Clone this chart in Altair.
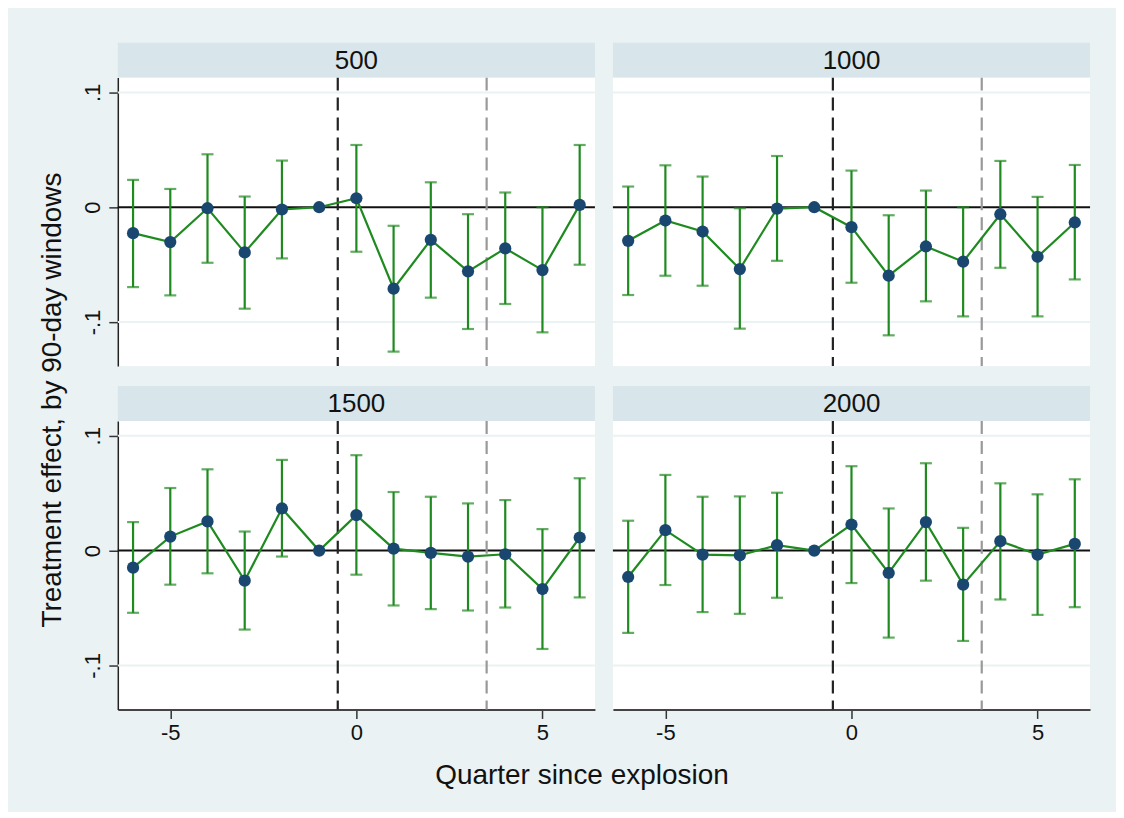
import altair as alt
import pandas as pd

# ---------------- data ----------------
quarters = [-6, -5, -4, -3, -2, -1, 0, 1, 2, 3, 4, 5, 6]
distances = ["500", "1000", "1500", "2000"]

est_500 = [-0.0226, -0.0304, -0.0009, -0.0394, -0.0020, 0.0, 0.0078, -0.0710, -0.0284, -0.0559, -0.0359, -0.0548, 0.0020]
lo_500 = [-0.0696, -0.0768, -0.0484, -0.0884, -0.0446, None, -0.0388, -0.1258, -0.0788, -0.1061, -0.0843, -0.1090, -0.0501]
hi_500 = [0.0238, 0.0159, 0.0461, 0.0093, 0.0406, None, 0.0542, -0.0162, 0.0217, -0.0061, 0.0128, 0.0000, 0.0542]

est_1000 = [-0.0293, -0.0116, -0.0212, -0.0539, -0.0012, 0.0, -0.0174, -0.0597, -0.0342, -0.0475, -0.0061, -0.0432, -0.0133]
lo_1000 = [-0.0765, -0.0597, -0.0684, -0.1058, -0.0467, None, -0.0658, -0.1116, -0.0820, -0.0951, -0.0528, -0.0951, -0.0629]
hi_1000 = [0.0180, 0.0365, 0.0267, -0.0009, 0.0446, None, 0.0319, -0.0070, 0.0145, 0.0000, 0.0403, 0.0090, 0.0368]

est_1500 = [-0.0149, 0.0122, 0.0254, -0.0262, 0.0367, 0.0, 0.0309, 0.0017, -0.0020, -0.0052, -0.0032, -0.0335, 0.0114]
lo_1500 = [-0.0542, -0.0297, -0.0198, -0.0688, -0.0052, None, -0.0210, -0.0478, -0.0510, -0.0522, -0.0496, -0.0857, -0.0408]
hi_1500 = [0.0248, 0.0545, 0.0708, 0.0166, 0.0790, None, 0.0831, 0.0510, 0.0469, 0.0411, 0.0440, 0.0187, 0.0630]

est_2000 = [-0.0230, 0.0178, -0.0035, -0.0041, 0.0047, 0.0, 0.0227, -0.0195, 0.0248, -0.0297, 0.0082, -0.0035, 0.0058]
lo_2000 = [-0.0717, -0.0300, -0.0536, -0.0551, -0.0411, None, -0.0283, -0.0758, -0.0262, -0.0787, -0.0426, -0.0560, -0.0493]
hi_2000 = [0.0260, 0.0659, 0.0469, 0.0472, 0.0504, None, 0.0735, 0.0367, 0.0761, 0.0198, 0.0586, 0.0490, 0.0621]

y_ticks = [-0.1, 0.0, 0.1]
x_ticks = [-5, 0, 5]
grid_vals = [-0.1, 0.1]
event_line = [-0.5]
later_line = [3.5]
x_title = "Quarter since explosion"
y_title = "Treatment effect, by 90-day windows"

series = {
    "500": (est_500, lo_500, hi_500),
    "1000": (est_1000, lo_1000, hi_1000),
    "1500": (est_1500, lo_1500, hi_1500),
    "2000": (est_2000, lo_2000, hi_2000),
}

# ---------------- styling ----------------
FONT = "Liberation Sans"
W, H = 478, 289
STRIP_H = 35
GREEN = "#1f8a1f"
NAVY = "#1a476f"
BG = "#eaf2f3"
STRIP = "#d8e5ea"

xs = alt.Scale(domain=[-6.41, 6.41], nice=False, zero=False)
ys = alt.Scale(domain=[-0.1384, 0.1129], nice=False, zero=False)


def x_axis(show):
    if not show:
        return None
    return alt.Axis(values=x_ticks, title=None, grid=False, labelFontSize=22, labelFont=FONT,
                    labelColor="#111", tickSize=9, tickColor="#333", tickWidth=1.5,
                    labelExpr="toString(datum.value)",
                    domainColor="#444", domainWidth=2, labelPadding=4, labelFlush=False)


def y_axis(show):
    if not show:
        return None
    return alt.Axis(values=y_ticks, title=None, grid=False, labelFontSize=22, labelFont=FONT,
                    labelColor="#111", labelAngle=270, labelAlign="center", labelBaseline="bottom",
                    labelExpr="datum.value > 0.05 ? '.1' : (datum.value < -0.05 ? '-.1' : '0')",
                    tickSize=9, tickColor="#333", tickWidth=1.5, domainColor="#222",
                    domainWidth=1.5, labelPadding=4, labelFlush=False)


def panel(d, show_x, show_y, extra=None):
    est, lo, hi = series[d]
    df = pd.DataFrame({"q": quarters, "est": est, "lo": lo, "hi": hi})
    ci = df.dropna()
    xa, ya = x_axis(show_x), y_axis(show_y)

    grid = alt.Chart(pd.DataFrame({"g": grid_vals})).mark_rule(color=BG, strokeWidth=2).encode(
        y=alt.Y("g:Q", scale=ys, axis=ya))
    zero = alt.Chart(pd.DataFrame({"z": [0.0]})).mark_rule(color="#111", strokeWidth=2).encode(
        y=alt.Y("z:Q", scale=ys, axis=ya))
    v1 = alt.Chart(pd.DataFrame({"v": event_line})).mark_rule(
        color="#222", strokeWidth=2.2, strokeDash=[13, 7]).encode(x=alt.X("v:Q", scale=xs, axis=xa))
    v2 = alt.Chart(pd.DataFrame({"v": later_line})).mark_rule(
        color="#999999", strokeWidth=2.2, strokeDash=[13, 7]).encode(x=alt.X("v:Q", scale=xs, axis=xa))
    bars = alt.Chart(ci).mark_rule(color=GREEN, strokeWidth=2.2).encode(
        x=alt.X("q:Q", scale=xs, axis=xa), y=alt.Y("lo:Q", scale=ys, axis=ya), y2="hi:Q")
    cap_lo = alt.Chart(ci).mark_tick(color=GREEN, size=12, thickness=2.2, orient="horizontal").encode(
        x=alt.X("q:Q", scale=xs, axis=xa), y=alt.Y("lo:Q", scale=ys, axis=ya))
    cap_hi = alt.Chart(ci).mark_tick(color=GREEN, size=12, thickness=2.2, orient="horizontal").encode(
        x=alt.X("q:Q", scale=xs, axis=xa), y=alt.Y("hi:Q", scale=ys, axis=ya))
    line = alt.Chart(df).mark_line(color=GREEN, strokeWidth=2.2).encode(
        x=alt.X("q:Q", scale=xs, axis=xa), y=alt.Y("est:Q", scale=ys, axis=ya))
    pts = alt.Chart(df).mark_circle(color=NAVY, size=150, opacity=1).encode(
        x=alt.X("q:Q", scale=xs, axis=xa), y=alt.Y("est:Q", scale=ys, axis=ya))

    lab = pd.DataFrame({"label": [d]})
    strip = alt.Chart(lab).mark_rect(color=STRIP).encode(
        x=alt.value(0), x2=alt.value(W), y=alt.value(-STRIP_H), y2=alt.value(0))
    strip_txt = alt.Chart(lab).mark_text(fontSize=26, font=FONT, color="#111", baseline="middle",
                                         align="center").encode(
        x=alt.value(W / 2), y=alt.value(-STRIP_H / 2 + 1), text="label:N")

    layers = [grid, zero, v1, v2, bars, cap_lo, cap_hi, line, pts, strip, strip_txt]
    if extra:
        layers += extra
    return alt.layer(*layers).properties(width=W, height=H)


ytitle_layer = alt.Chart(pd.DataFrame({"t": [y_title]})).mark_text(
    fontSize=28, font=FONT, color="#111", angle=270, baseline="middle", align="center").encode(
    x=alt.value(-65), y=alt.value(323), text="t:N")
xtitle_layer = alt.Chart(pd.DataFrame({"t": [x_title]})).mark_text(
    fontSize=28, font=FONT, color="#111", baseline="middle", align="center").encode(
    x=alt.value(465), y=alt.value(356), text="t:N")

chart = alt.concat(
    panel("500", False, True, [ytitle_layer]),
    panel("1000", False, False),
    panel("1500", True, True, [xtitle_layer]),
    panel("2000", True, False),
    columns=2, spacing={"row": 55, "column": 18}, bounds="flush",
).properties(
    padding={"left": 30, "top": 34, "right": 25, "bottom": 21}
).configure(background=BG).configure_view(fill="white", stroke=None, strokeWidth=0)

chart.save("out.html", embed_options={"renderer": "svg", "actions": False})
